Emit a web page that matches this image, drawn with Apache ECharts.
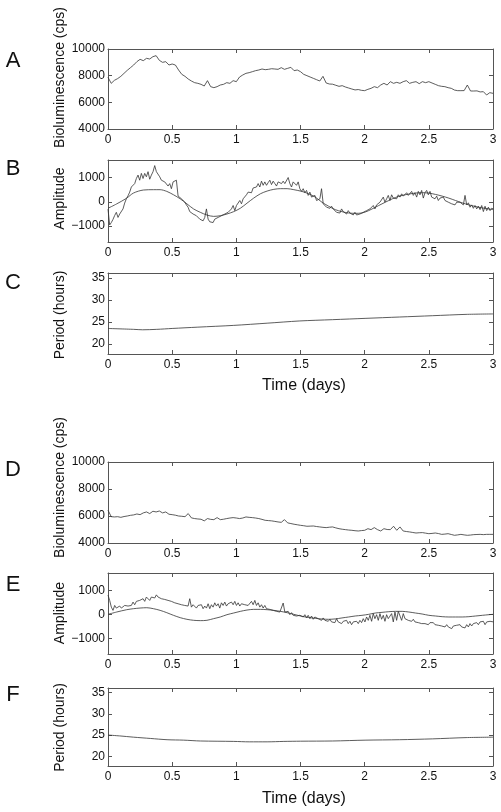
<!DOCTYPE html>
<html><head><meta charset="utf-8">
<script src="https://cdn.jsdelivr.net/npm/echarts@6/dist/echarts.min.js"></script>
<style>html,body{margin:0;padding:0;background:#fff}#c{width:501px;height:812px}</style>
</head><body><div id="c"></div>
<script>
// ---------- tick labels ----------
const bioTicks = [4000, 6000, 8000, 10000];
const ampTicks = [-1000, 0, 1000];
const periodTicks = [20, 25, 30, 35];
const panelLetters = ['A', 'B', 'C', 'D', 'E', 'F'];
const yNames = ['Bioluminescence (cps)', 'Amplitude', 'Period (hours)', 'Bioluminescence (cps)', 'Amplitude', 'Period (hours)'];
const xName = 'Time (days)';

// ---------- sampling intervals (days) ----------
const STEP_BIO = 0.025;
const STEP_AMP = 0.013;

// ---------- panel A: raw bioluminescence ----------
const bioA = [7875,7425,7650,7780,7950,8175,8400,8600,8800,9050,
9225,9125,9300,9250,9425,9500,9150,9000,9050,8800,
8875,8800,8425,8100,7950,7750,7600,7475,7425,7350,
7225,7625,7175,7100,7175,7300,7350,7475,7425,7625,
7550,7900,8050,8175,8225,8300,8375,8425,8500,8450,
8475,8520,8500,8475,8600,8475,8550,8625,8375,8425,
8300,8100,8000,7900,7800,7700,7600,7950,7450,7375,
7360,7280,7200,7250,7150,7075,7000,6930,6960,6900,
6875,6975,7050,7175,7100,7300,7425,7300,7550,7425,
7500,7425,7550,7625,7425,7500,7550,7400,7550,7475,
7550,7450,7350,7250,7200,7175,7100,7050,6920,6875,
6875,6880,7300,6850,6850,6860,6780,6800,6550,6725,
6675];

// ---------- panel B: detrended amplitude + fit ----------
const ampB = [-300,-950,-850,-720,-560,-430,-640,-500,-420,-290,
-50,125,250,400,610,540,750,960,1100,890,
1170,960,1170,1030,1240,930,1100,1240,1490,1240,
1170,1030,890,960,820,890,650,750,540,820,
750,890,240,160,125,50,-10,-125,-220,-400,
-360,-500,-430,-570,-640,-710,-680,-780,-640,-290,
-710,-820,-740,-850,-710,-780,-640,-710,-570,-640,
-500,-570,-430,-500,-290,-150,-360,-150,-220,55,
-80,125,195,290,400,470,375,570,540,610,
750,610,850,680,820,680,790,890,710,850,
750,650,820,890,750,850,750,680,1000,750,
610,820,750,680,820,540,430,540,375,470,
265,400,195,125,265,55,125,125,540,-80,
-150,-220,-150,-265,-180,-290,-360,-430,-360,-460,
-290,-400,-360,-500,-360,-460,-400,-540,-430,-540,
-600,-500,-570,-430,-500,-360,-430,-290,-330,-150,
-290,-125,-180,-15,-80,195,-15,125,265,55,
290,155,235,125,290,195,330,235,290,375,
265,330,430,265,375,195,430,290,470,155,
375,470,290,430,195,265,125,235,55,155,
95,195,55,125,-15,55,-80,-15,-125,-15,
-80,-15,-80,-125,265,-125,-40,-220,-125,-265,
-150,-290,-180,-320,-150,-400,-180,-360,-220,-360,
-265,-290];
const fitB = [[0,-264],[0.068,-83],[0.146,153],[0.198,361],[0.276,486],[0.354,500],[0.406,500],[0.458,430],[0.51,292],[0.5625,125],[0.615,-83],[0.667,-292],[0.719,-430],[0.771,-542],[0.823,-597],[0.875,-570],[0.927,-500],[0.979,-403],[1.031,-264],[1.083,-55],[1.135,153],[1.188,333],[1.24,444],[1.292,514],[1.344,542],[1.396,542],[1.448,500],[1.51,430],[1.5625,333],[1.615,195],[1.667,-14],[1.719,-180],[1.771,-320],[1.823,-403],[1.875,-458],[1.927,-472],[1.979,-458],[2.031,-361],[2.083,-222],[2.135,-83],[2.188,55],[2.24,180],[2.292,264],[2.344,319],[2.396,361],[2.448,375],[2.5,361],[2.552,305],[2.604,236],[2.656,153],[2.708,55],[2.76,-42],[2.812,-125],[2.865,-194],[2.917,-250],[2.969,-292],[3,-320]];

// ---------- panel C: period ----------
const periodC = [[0,23.5],[0.2,23.3],[0.27,23.2],[0.38,23.3],[0.5,23.5],[0.7,23.8],[0.98,24.2],[1.24,24.7],[1.49,25.2],[1.75,25.5],[2.01,25.8],[2.27,26.1],[2.53,26.4],[2.79,26.7],[3,26.8]];

// ---------- panel D: raw bioluminescence ----------
const bioD = [6430,5950,5930,5950,5900,5960,6000,6050,6080,6150,
6100,6230,6300,6180,6350,6300,6370,6230,6300,6130,
6100,6060,6000,5980,5950,6180,5860,5810,5780,5760,
5640,5810,5750,5730,5880,5730,5760,5810,5850,5880,
5850,5810,5850,5930,5900,5880,5850,5810,5750,5680,
5660,5640,5600,5560,5530,5730,5490,5440,5390,5350,
5310,5280,5240,5250,5260,5220,5190,5160,5140,5170,
5190,5120,5060,5020,4990,4960,4940,4910,4890,4920,
4940,5060,4990,5140,4990,4890,5060,5000,4990,5240,
4940,5190,4890,4850,4820,4780,4740,4760,4770,4730,
4690,4710,4740,4700,4640,4660,4690,4630,4570,4600,
4640,4600,4570,4590,4620,4630,4640,4620,4640,4640,
4640];

// ---------- panel E: detrended amplitude + fit ----------
const ampE = [800,580,300,165,370,260,300,345,260,300,
370,300,345,400,370,510,400,540,480,580,
510,650,540,720,650,580,720,790,680,810,
720,790,650,720,620,680,580,650,540,580,
480,540,440,510,400,480,370,440,345,650,
300,400,345,260,370,300,400,235,345,260,
440,235,400,300,480,345,440,260,480,370,
510,345,440,370,510,400,540,370,480,345,
440,510,400,480,370,440,540,400,580,370,
480,300,400,260,370,235,300,205,260,165,
235,125,205,95,165,470,95,30,125,-15,
70,-40,30,-70,-15,-40,30,-110,-15,-150,
-40,-180,-70,-205,-110,-40,-180,-110,-250,-150,
-250,-180,-290,-205,-315,-250,-345,-180,-315,-250,
-385,-290,-345,-250,-385,-290,-430,-315,-385,-290,
-385,-250,-345,-180,-315,-110,-250,-40,-290,30,
-180,-15,-250,30,-205,-40,-290,-15,-180,-110,
30,-315,95,-250,125,190,-250,30,-180,-110,
-250,-180,-290,-205,-315,-250,-345,-290,-385,-315,
-385,-345,-430,-345,-400,-345,-430,-370,-455,-385,
-485,-430,-525,-430,-525,-455,-595,-485,-565,-455,
-525,-430,-525,-455,-565,-430,-525,-385,-485,-385,
-455,-345,-430,-315,-385,-290,-430,-315,-385,-290,
-345,-315];
const fitE = [[0,0],[0.068,97],[0.146,193],[0.198,235],[0.25,262],[0.302,276],[0.354,235],[0.406,166],[0.458,69],[0.51,-41],[0.5625,-138],[0.615,-207],[0.667,-248],[0.719,-262],[0.771,-248],[0.823,-179],[0.875,-110],[0.927,-14],[0.979,55],[1.031,124],[1.083,179],[1.135,207],[1.188,207],[1.24,193],[1.292,166],[1.344,124],[1.396,69],[1.448,0],[1.51,-80],[1.5625,-130],[1.615,-165],[1.667,-195],[1.719,-207],[1.771,-190],[1.823,-150],[1.875,-110],[1.927,-69],[1.979,-41],[2.031,0],[2.083,55],[2.135,83],[2.188,110],[2.24,124],[2.292,124],[2.344,97],[2.396,55],[2.448,14],[2.5,-41],[2.552,-69],[2.604,-97],[2.656,-110],[2.708,-110],[2.76,-110],[2.812,-97],[2.865,-69],[2.917,-41],[2.969,-14],[3,0]];

// ---------- panel F: period ----------
const periodF = [[0,25.0],[0.09,24.8],[0.2,24.5],[0.33,24.2],[0.46,23.9],[0.59,23.8],[0.72,23.6],[0.98,23.5],[1.1,23.4],[1.24,23.4],[1.37,23.5],[1.5,23.55],[1.75,23.6],[2.01,23.8],[2.27,23.9],[2.53,24.1],[2.79,24.4],[3,24.5]];

// ---------- build ----------
function sampled(values, step) { return values.map((v, i) => [i * step, v]); }

const FONT = '"Liberation Sans", Arial, Helvetica, sans-serif';
const AXIS_COLOR = '#555';
const LINE_COLOR = '#333';

const panels = [
  { top: 49,  height: 80, min: 4000,  max: 10000, ticks: bioTicks,    series: [sampled(bioA, STEP_BIO)] },
  { top: 160, height: 82, min: -1650, max: 1720,  ticks: ampTicks,    series: [sampled(ampB, STEP_AMP), fitB] },
  { top: 273, height: 81, min: 17.7,  max: 36.1,  ticks: periodTicks, series: [periodC] },
  { top: 462, height: 81, min: 4000,  max: 10000, ticks: bioTicks,    series: [sampled(bioD, STEP_BIO)] },
  { top: 573, height: 81, min: -1650, max: 1720,  ticks: ampTicks,    series: [sampled(ampE, STEP_AMP), fitE] },
  { top: 688, height: 78, min: 17.7,  max: 36.1,  ticks: periodTicks, series: [periodF] }
];
const yNameCenters = [77.5, 198.5, 315, 487.5, 613, 727.5];
const letterCenters = [60.5, 168.5, 282.5, 470, 585, 694.5];
const xNameCenters = [386, 799];

const grid = [], xAxis = [], yAxis = [], series = [];
panels.forEach((p, i) => {
  grid.push({ left: 108, width: 385, top: p.top, height: p.height });
  const xBase = {
    gridIndex: i, type: 'value', min: 0, max: 3, interval: 0.5,
    axisLine: { show: true, onZero: false, lineStyle: { color: AXIS_COLOR, width: 1 } },
    axisTick: { show: true, inside: true, length: 4, lineStyle: { color: AXIS_COLOR } },
    splitLine: { show: false }
  };
  xAxis.push(Object.assign({}, xBase, {
    position: 'bottom',
    axisLabel: { show: true, fontSize: 12, fontFamily: FONT, color: '#111', margin: 5 }
  }));
  xAxis.push(Object.assign({}, xBase, { position: 'top', axisLabel: { show: false } }));
  const yBase = {
    gridIndex: i, type: 'value', min: p.min, max: p.max,
    axisLine: { show: true, onZero: false, lineStyle: { color: AXIS_COLOR, width: 1 } },
    axisTick: { show: true, inside: true, length: 4, customValues: p.ticks, lineStyle: { color: AXIS_COLOR } },
    splitLine: { show: false }
  };
  yAxis.push(Object.assign({}, yBase, {
    position: 'left',
    axisLabel: { show: true, fontSize: 12, fontFamily: FONT, color: '#111', margin: 3,
      customValues: p.ticks, formatter: v => String(v).replace('-', '\u2212') }
  }));
  yAxis.push(Object.assign({}, yBase, { position: 'right', axisLabel: { show: false } }));
  p.series.forEach((d, j) => {
    series.push({
      type: 'line', xAxisIndex: 2 * i, yAxisIndex: 2 * i, data: d,
      showSymbol: false, symbol: 'none', smooth: j === 1 || d.length < 30 ? 0.3 : false,
      lineStyle: { color: LINE_COLOR, width: 0.8 }, silent: true, animation: false, clip: true
    });
  });
});

const graphic = [];
panels.forEach((p, i) => {
  graphic.push({ type: 'text', x: 13, y: letterCenters[i], silent: true,
    style: { text: panelLetters[i], font: '22px ' + FONT, fill: '#111', align: 'center', verticalAlign: 'middle' } });
  graphic.push({ type: 'text', x: 60, y: yNameCenters[i], rotation: Math.PI / 2, silent: true,
    style: { text: yNames[i], font: '14px ' + FONT, fill: '#111', align: 'center', verticalAlign: 'middle' } });
});
xNameCenters.forEach(cy => {
  graphic.push({ type: 'text', x: 304, y: cy, silent: true,
    style: { text: xName, font: '16px ' + FONT, fill: '#111', align: 'center', verticalAlign: 'middle' } });
});

const chart = echarts.init(document.getElementById('c'), null, { renderer: 'canvas' });
chart.setOption({ animation: false, backgroundColor: '#fff', grid, xAxis, yAxis, series, graphic });
</script>
</body></html>
